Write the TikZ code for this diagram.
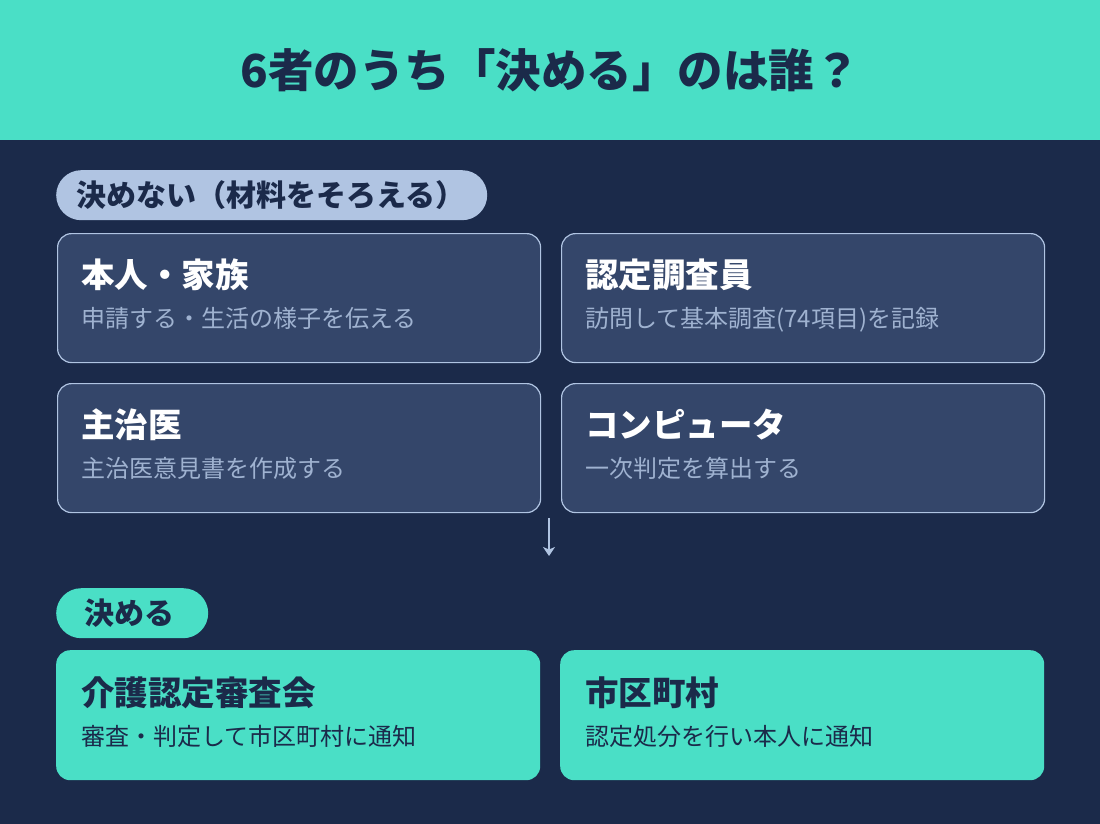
\documentclass[tikz,border=0pt]{standalone}
\usepackage{fontspec}
\usetikzlibrary{arrows.meta}
\newfontfamily\jpfont{Noto Sans CJK JP}
\definecolor{navy}{HTML}{1B2A4A}
\definecolor{mint}{HTML}{4ADFC6}
\definecolor{slate}{HTML}{34466A}
\definecolor{haze}{HTML}{B0C4E2}
\definecolor{mist}{HTML}{9FB2D0}

\tikzset{
  card/.style={draw=haze, line width=1.2pt, fill=slate, rounded corners=14pt,
    minimum width=483pt, minimum height=129pt, anchor=north west, inner sep=0pt},
  keycard/.style={fill=mint, rounded corners=14pt,
    minimum width=484pt, minimum height=130pt, anchor=north west, inner sep=0pt},
  pill/.style={rounded corners=25pt, minimum height=50pt, anchor=north west,
    inner ysep=0pt, align=left, text=navy,
    font=\jpfont\bfseries\fontsize{30}{30}\selectfont},
  headline/.style={anchor=base west, inner sep=0pt,
    font=\jpfont\bfseries\fontsize{33.5}{33.5}\selectfont},
  subline/.style={anchor=base west, inner sep=0pt,
    font=\jpfont\fontsize{24}{24}\selectfont},
}

\begin{document}
\begin{tikzpicture}[x=1pt,y=-1pt]
    \useasboundingbox (0,0) rectangle (1100,824);
    \fill[navy] (0,0) rectangle (1100,824);
    \fill[mint] (0,0) rectangle (1100,140);

    \node[text=navy, font=\jpfont\bfseries\fontsize{45.5}{45.5}\selectfont] (title) at (550,70)
        {6者のうち「決める」のは誰？};

    \node[pill, fill=haze, text width=391pt, inner xsep=20pt] (nokime) at (56,170)
        {決めない（材料をそろえる）};

    \foreach \n/\x/\y/\t/\s in {honnin/57/233/本人・家族/申請する・生活の様子を伝える,
        chosain/561/233/認定調査員/訪問して基本調査(74項目)を記録,
        shujii/57/383/主治医/主治医意見書を作成する,
        computer/561/383/コンピュータ/一次判定を算出する}
        {
            \node[card] (\n) at (\x,\y) {};
            \node[headline, text=white] (\n-t) at ([shift={(24,54)}]\n.north west) {\t};
            \node[subline, text=mist] (\n-s) at ([shift={(24,94)}]\n.north west) {\s};
        }

    \coordinate (gap-top) at (549,518);
    \coordinate (gap-bot) at (549,556);
    \draw[haze, line width=1.5pt, -{Stealth[length=9pt,width=12pt,inset=2.5pt]}] (gap-top) -- (gap-bot);

    \node[pill, fill=mint, text width=96pt, inner xsep=28pt] (kimeru) at (56,588) {決める};

    \foreach \n/\x/\t/\s in {shinsakai/56/介護認定審査会/審査・判定して市区町村に通知,
        shichoson/560/市区町村/認定処分を行い本人に通知}
        {
            \node[keycard] (\n) at (\x,650) {};
            \node[headline, text=navy] (\n-t) at ([shift={(25,55)}]\n.north west) {\t};
            \node[subline, text=navy] (\n-s) at ([shift={(25,95)}]\n.north west) {\s};
        }
\end{tikzpicture}
\end{document}
